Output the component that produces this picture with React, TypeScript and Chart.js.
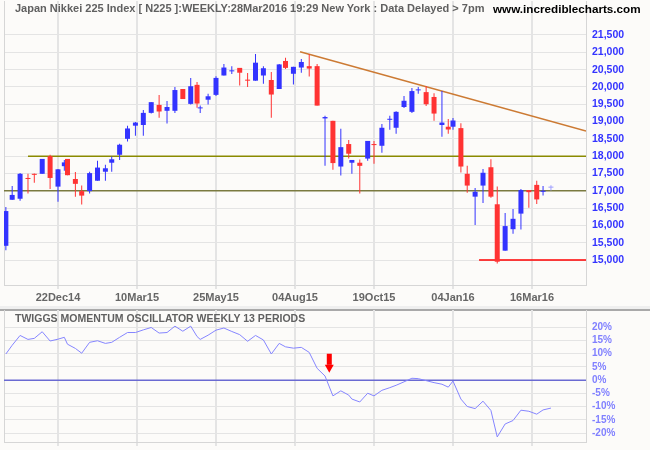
import React, { useEffect, useRef } from 'react';
import { Chart, registerables } from 'chart.js';

Chart.register(...registerables);

// Weekly bars, Japan Nikkei 225, week of 27 Oct 2014 to week of 28 Mar 2016
const tradingDaysPerWeek = [
  5, 4, 5, 5, 4, 5, 5, 5, 4, 2,
  5, 4, 5, 5, 5, 4, 5, 5, 5, 5,
  5, 5, 5, 5, 5, 5, 4, 2, 5, 5,
  5, 5, 5, 5, 5, 5, 5, 5, 4, 5,
  5, 5, 5, 5, 5, 5, 5, 2, 5, 5,
  4, 5, 5, 4, 5, 5, 4, 5, 5, 5,
  4, 3, 5, 4, 5, 5, 5, 4, 5, 5,
  5, 5, 5, 4, 5,
];

const opens = [
  15410, 16740, 16770, 17370, 17490, 17490, 18000, 17120, 17710, 17920,
  17340, 16990, 16990, 17290, 17550, 17810, 18040, 18500, 18880, 18900,
  19250, 19480, 19310, 19310, 19940, 19510, 20060, 19380, 19630, 19770,
  20330, 20450, 20550, 20210, 20180, 20330, 20200, 19940, 20750, 20380,
  20560, 20600, 20600, 19090, 19020, 17700, 18350, 17810, 17810, 17930,
  18350, 18300, 19050, 18820, 19420, 19280, 19900, 19850, 19710, 18900,
  18850, 18850, 18810, 17490, 16830, 17150, 17680, 16610, 15270, 15890,
  16340, 17020, 17170, 16970, 17090,
];
const highs = [
  16530, 17140, 17510, 17490, 17500, 17920, 18040, 17630, 17890, 17920,
  17540, 17150, 17550, 17870, 17750, 17990, 18360, 18880, 18990, 19330,
  19560, 19770, 19590, 20000, 19940, 20260, 20140, 19460, 19800, 20310,
  20660, 20600, 20550, 20400, 20950, 20600, 20430, 20660, 20840, 20580,
  20810, 20950, 20660, 19170, 19020, 18790, 18470, 17890, 17900, 18440,
  18440, 18930, 19170, 19300, 19740, 19970, 20000, 20030, 19820, 19880,
  19070, 19100, 18950, 17720, 17080, 17630, 17910, 17120, 16360, 16470,
  17050, 17020, 17290, 17140, 17160,
];
const lows = [
  15280, 16730, 16710, 16920, 17230, 17490, 17050, 16680, 17580, 17450,
  16830, 16600, 16920, 17290, 17290, 17550, 17890, 18420, 18590, 18590,
  19230, 19110, 18940, 19250, 19650, 19490, 19400, 19250, 19490, 19740,
  20330, 20370, 20040, 20000, 20180, 20090, 19110, 19940, 20520, 20070,
  20410, 20300, 19460, 17720, 17610, 17440, 17930, 17490, 16920, 17870,
  17780, 18100, 18760, 18650, 19390, 19250, 19800, 19450, 19020, 18560,
  18650, 18760, 17530, 16940, 16010, 16650, 16800, 14900, 15270, 15760,
  15880, 16510, 16620, 16860, 17010,
];
const closes = [
  16414, 16880, 17490, 17340, 17460, 17920, 17370, 17620, 17820, 17450,
  17200, 16860, 17510, 17670, 17650, 17910, 18330, 18800, 18970, 19250,
  19560, 19290, 19420, 19910, 19650, 20020, 19520, 19400, 19730, 20260,
  20560, 20460, 20410, 20180, 20700, 20540, 19780, 20650, 20550, 20580,
  20720, 20530, 19460, 19130, 17800, 18260, 18070, 17890, 17720, 18440,
  18320, 18820, 19080, 19280, 19600, 19880, 19920, 19500, 19230, 18970,
  18770, 19030, 17700, 17150, 16970, 17520, 16830, 14950, 15980, 16190,
  17020, 16960, 16750, 17000, 17120,
];

// Twiggs Momentum Oscillator (weekly, 13 periods), percent
const momentum = [
  9.9, 13.2, 16.9, 15.4, 15.8, 18.3, 14.8, 15.5, 16.2, 13.6,
  12.0, 10.2, 14.3, 14.9, 13.9, 14.3, 16.2, 18.0, 18.0, 19.0,
  19.9, 17.8, 18.0, 20.4, 18.5, 20.4, 16.5, 15.4, 17.0, 18.9,
  19.7, 18.4, 17.2, 14.7, 16.9, 15.2, 9.9, 13.9, 12.6, 12.1,
  12.4, 10.5, 4.5, 1.6, -5.9, -4.0, -5.6, -7.1, -8.2, -4.9,
  -5.9, -3.8, -2.8, -1.9, -0.6, 0.75, 0.6, -0.15, -0.9, -1.5,
  -2.6, -0.3, -7.1, -9.9, -10.7, -7.9, -11.4, -21.4, -16.5, -15.2,
  -11.3, -11.7, -12.8, -11.2, -10.5,
];

// x axis: trading-day count since 27 Oct 2014
const xTickDays = [38, 88, 138, 188, 238, 288, 338];
const xTickLabels = ['22Dec14', '10Mar15', '25May15', '04Aug15', '19Oct15', '04Jan16', '16Mar16'];
const priceTicks = [15000, 15500, 16000, 16500, 17000, 17500, 18000, 18500, 19000, 19500, 20000, 20500, 21000, 21500];
const momentumTicks = [-20, -15, -10, -5, 0, 5, 10, 15, 20];

const X_MIN = 3.82;
const X_MAX = 372.18;
const PRICE_MIN = 14278;
const PRICE_MAX = 22482;
const MOM_MIN = -23.3;
const MOM_MAX = 26.5;

// annotations
const support1 = { fromDay: 19, value: 18000 };
const support2 = { fromDay: X_MIN, value: 17000 };
const lowLine = { fromDay: 304.5, value: 15000 };
const trendLine = [
  { day: 191.2, value: 21018 },
  { day: X_MAX, value: 18727 },
];
const arrowMark = { day: 209.7, top: 10, tip: 2.8 };

const title = 'Japan Nikkei 225 Index [ N225 ]:WEEKLY:28Mar2016 19:29 New York : Data Delayed > 7pm';
const siteName = 'www.incrediblecharts.com';
const oscTitle = 'TWIGGS MOMENTUM OSCILLATOR WEEKLY 13 PERIODS';

const UP = '#3333ff';
const DOWN = '#ff3333';
const PARTIAL = '#a0a0ff';
const GRID = '#e4e4e4';
const BORDER = '#d6d6d6';
const BG = '#fcfbf9';
const FONT = '"Liberation Sans", Arial, sans-serif';

const weekDays: number[] = [];
{
  let acc = 0;
  for (const d of tradingDaysPerWeek) {
    acc += d;
    weekDays.push(acc);
  }
}

const candleColors = opens.map((o, i) =>
  i === opens.length - 1 ? PARTIAL : closes[i] >= o ? UP : DOWN
);

const leftBorderPlugin = {
  id: 'leftBorder',
  beforeDatasetsDraw(chart: any) {
    const { ctx, chartArea } = chart;
    ctx.save();
    ctx.strokeStyle = BORDER;
    ctx.lineWidth = 1;
    ctx.beginPath();
    ctx.moveTo(Math.round(chartArea.left) + 0.5, chartArea.top);
    ctx.lineTo(Math.round(chartArea.left) + 0.5, chartArea.bottom);
    ctx.stroke();
    ctx.restore();
  },
};

const arrowPlugin = {
  id: 'arrowMark',
  afterDatasetsDraw(chart: any) {
    const { ctx } = chart;
    const xs = chart.scales.x;
    const ys = chart.scales.y;
    const x = xs.getPixelForValue(arrowMark.day);
    const yTop = ys.getPixelForValue(arrowMark.top);
    const yTip = ys.getPixelForValue(arrowMark.tip);
    const headH = 8;
    ctx.save();
    ctx.fillStyle = '#ff0000';
    ctx.fillRect(x - 2.5, yTop, 5, yTip - headH - yTop);
    ctx.beginPath();
    ctx.moveTo(x - 4.5, yTip - headH);
    ctx.lineTo(x + 4.5, yTip - headH);
    ctx.lineTo(x, yTip);
    ctx.closePath();
    ctx.fill();
    ctx.restore();
  },
};

const xTickBuilder = (s: any) => {
  s.ticks = xTickDays.map((v) => ({ value: v }));
};
const noPadX = (h: number) => (s: any) => {
  s.height = h;
  s.paddingLeft = 0;
  s.paddingRight = 0;
};
const noPadY = (s: any) => {
  s.width = 64;
  s.paddingTop = 0;
  s.paddingBottom = 0;
};

export default function App() {
  const topRef = useRef<HTMLCanvasElement>(null);
  const botRef = useRef<HTMLCanvasElement>(null);

  useEffect(() => {
    document.body.style.margin = '0';
    const c1 = new Chart(topRef.current as HTMLCanvasElement, {
      type: 'bar',
      data: {
        datasets: [
          {
            type: 'line',
            data: [
              { x: support2.fromDay, y: support2.value },
              { x: X_MAX, y: support2.value },
            ],
            borderColor: '#7a7a40',
            borderWidth: 1.5,
            pointRadius: 0,
            order: 5,
          } as any,
          {
            type: 'line',
            data: [
              { x: support1.fromDay, y: support1.value },
              { x: X_MAX, y: support1.value },
            ],
            borderColor: '#8a8a00',
            borderWidth: 1.5,
            pointRadius: 0,
            order: 5,
          },
          {
            type: 'line',
            data: [
              { x: lowLine.fromDay, y: lowLine.value },
              { x: X_MAX, y: lowLine.value },
            ],
            borderColor: '#ff0000',
            borderWidth: 1.5,
            pointRadius: 0,
            order: 5,
          },
          {
            type: 'line',
            data: trendLine.map((p) => ({ x: p.day, y: p.value })),
            borderColor: '#cc7a33',
            borderWidth: 1.5,
            pointRadius: 0,
            order: 5,
          },
          {
            type: 'bar',
            data: weekDays.map((d, i) => ({ x: d, y: [lows[i], highs[i]] })),
            backgroundColor: candleColors,
            barThickness: 1,
            grouped: false,
            borderWidth: 0,
            inflateAmount: 0,
            order: 1,
          } as any,
          {
            type: 'bar',
            data: weekDays.map((d, i) => ({ x: d, y: [opens[i], closes[i]] })),
            backgroundColor: candleColors,
            barThickness: 5,
            minBarLength: 1,
            grouped: false,
            borderWidth: 0,
            inflateAmount: 0,
            order: 0,
          } as any,
        ],
      },
      options: {
        responsive: false,
        animation: false,
        events: [],
        layout: { padding: { left: 4, top: 1, right: 0, bottom: 0 } },
        plugins: { legend: { display: false }, tooltip: { enabled: false } },
        scales: {
          x: {
            type: 'linear',
            min: X_MIN,
            max: X_MAX,
            offset: false,
            afterBuildTicks: xTickBuilder,
            afterFit: noPadX(21),
            ticks: {
              autoSkip: false,
              maxRotation: 0,
              padding: 2,
              color: '#666666',
              font: { family: FONT, size: 11, weight: 'bold' },
              callback: (v: any) => {
                const i = xTickDays.indexOf(Number(v));
                return i >= 0 ? xTickLabels[i] : '';
              },
            },
            grid: { color: GRID, lineWidth: 2, tickLength: 4, offset: false },
            border: { display: true, color: BORDER, width: 1 },
          },
          y: {
            type: 'linear',
            position: 'right',
            min: PRICE_MIN,
            max: PRICE_MAX,
            afterBuildTicks: (s: any) => {
              s.ticks = priceTicks.map((v) => ({ value: v }));
            },
            afterFit: noPadY,
            ticks: {
              padding: 6,
              color: UP,
              font: { family: FONT, size: 10.5, weight: 'bold' },
              callback: (v: any) => Number(v).toLocaleString('en-US'),
            },
            grid: { color: GRID, lineWidth: 1, drawTicks: false },
            border: { display: true, color: BORDER, width: 1 },
          },
        },
      } as any,
      plugins: [leftBorderPlugin],
    });

    const c2 = new Chart(botRef.current as HTMLCanvasElement, {
      type: 'line',
      data: {
        datasets: [
          {
            data: weekDays.map((d, i) => ({ x: d, y: momentum[i] })),
            borderColor: '#8585ff',
            borderWidth: 1,
            pointRadius: 0,
            tension: 0,
            order: 0,
          },
          {
            data: [
              { x: X_MIN, y: 0 },
              { x: X_MAX, y: 0 },
            ],
            borderColor: '#6a6ad2',
            borderWidth: 1.5,
            pointRadius: 0,
            order: 1,
          },
        ],
      },
      options: {
        responsive: false,
        animation: false,
        events: [],
        layout: { padding: { left: 4, top: 0, right: 0, bottom: 0 } },
        plugins: { legend: { display: false }, tooltip: { enabled: false } },
        scales: {
          x: {
            type: 'linear',
            min: X_MIN,
            max: X_MAX,
            offset: false,
            afterBuildTicks: xTickBuilder,
            afterFit: noPadX(8),
            ticks: { display: false },
            grid: { color: GRID, lineWidth: 2, tickLength: 4 },
            border: { display: true, color: BORDER, width: 1 },
          },
          y: {
            type: 'linear',
            position: 'right',
            min: MOM_MIN,
            max: MOM_MAX,
            afterBuildTicks: (s: any) => {
              s.ticks = momentumTicks.map((v) => ({ value: v }));
            },
            afterFit: noPadY,
            ticks: {
              padding: 6,
              color: '#8080ff',
              font: { family: FONT, size: 10, weight: 'bold' },
              callback: (v: any) => `${v}%`,
            },
            grid: { color: GRID, lineWidth: 1, drawTicks: false },
            border: { display: true, color: BORDER, width: 1 },
          },
        },
      } as any,
      plugins: [leftBorderPlugin, arrowPlugin],
    });

    return () => {
      c1.destroy();
      c2.destroy();
    };
  }, []);

  return (
    <div
      style={{
        position: 'fixed',
        left: 0,
        top: 0,
        width: 650,
        height: 450,
        background: BG,
        overflow: 'hidden',
        fontFamily: FONT,
      }}
    >
      <canvas
        ref={topRef}
        width={650}
        height={306}
        style={{ position: 'absolute', left: 0, top: 0, width: 650, height: 306 }}
      />
      <div style={{ position: 'absolute', left: 0, top: 306, width: 650, height: 3, background: '#efefef' }} />
      <div style={{ position: 'absolute', left: 0, top: 309, width: 650, height: 2, background: '#a9a9a9' }} />
      <canvas
        ref={botRef}
        width={650}
        height={140}
        style={{ position: 'absolute', left: 0, top: 310, width: 650, height: 140 }}
      />
      <div
        style={{
          position: 'absolute',
          left: 15,
          top: 1,
          fontSize: 11,
          fontWeight: 'bold',
          color: '#606060',
          lineHeight: '14px',
          whiteSpace: 'nowrap',
        }}
      >
        {title}
      </div>
      <div
        style={{
          position: 'absolute',
          left: 493,
          top: 0.5,
          fontSize: 11.7,
          fontWeight: 'bold',
          color: '#000000',
          lineHeight: '15px',
          whiteSpace: 'nowrap',
        }}
      >
        {siteName}
      </div>
      <div
        style={{
          position: 'absolute',
          left: 15,
          top: 311,
          fontSize: 10.5,
          fontWeight: 'bold',
          color: '#606060',
          lineHeight: '14px',
          whiteSpace: 'nowrap',
        }}
      >
        {oscTitle}
      </div>
    </div>
  );
}
